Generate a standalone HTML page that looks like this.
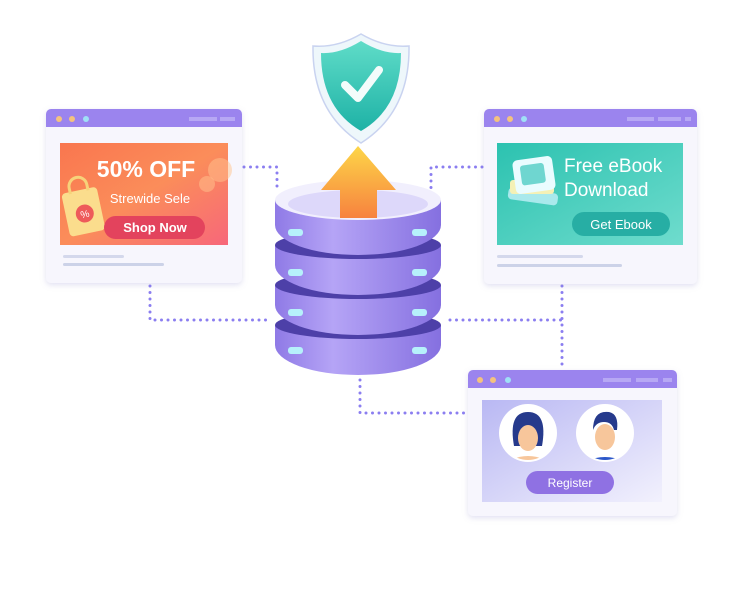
<!DOCTYPE html>
<html><head><meta charset="utf-8"><style>
html,body{margin:0;padding:0;background:#fff;}
svg{display:block;font-family:"Liberation Sans",sans-serif;}
</style></head><body>
<svg width="746" height="602" viewBox="0 0 746 602">
<defs>
<linearGradient id="org" x1="0" y1="0" x2="1" y2="1"><stop offset="0" stop-color="#f9764f"/><stop offset="0.5" stop-color="#fb8d5a"/><stop offset="1" stop-color="#f7677a"/></linearGradient>
<linearGradient id="teal" x1="0" y1="0" x2="1" y2="1"><stop offset="0" stop-color="#2cc2b0"/><stop offset="1" stop-color="#6fdccd"/></linearGradient>
<linearGradient id="reg" x1="0" y1="0" x2="1" y2="1"><stop offset="0" stop-color="#b9b8f3"/><stop offset="1" stop-color="#f2f1fd"/></linearGradient>
<linearGradient id="disc" x1="0" y1="0" x2="1" y2="0"><stop offset="0" stop-color="#8f7ae6"/><stop offset="0.35" stop-color="#b5a4f6"/><stop offset="1" stop-color="#8570e0"/></linearGradient>
<linearGradient id="arrow" x1="0" y1="0" x2="0" y2="1"><stop offset="0" stop-color="#fdd648"/><stop offset="1" stop-color="#f7823f"/></linearGradient>
<linearGradient id="shield" x1="0" y1="0" x2="0" y2="1"><stop offset="0" stop-color="#5fdcc8"/><stop offset="1" stop-color="#1eb2a6"/></linearGradient>
<filter id="sh" x="-20%" y="-20%" width="140%" height="140%"><feDropShadow dx="0" dy="2" stdDeviation="3" flood-color="#8a86c8" flood-opacity="0.25"/></filter>
</defs>
<g stroke="#8b7ef0" stroke-width="3" stroke-linecap="round" stroke-dasharray="0 6.5" fill="none">
<path d="M244 167 H277 V192"/>
<path d="M150 286 V320 H268"/>
<path d="M482 167 H431 V192"/>
<path d="M450 320 H562"/>
<path d="M562 286 V366"/>
<path d="M360 380 V413 H466"/>
</g>
<g filter="url(#sh)">
<rect x="46" y="109" width="196" height="174" rx="5" fill="#f7f6fd"/>
</g>
<path d="M46 127 V114 a5 5 0 0 1 5 -5 H237 a5 5 0 0 1 5 5 V127 Z" fill="#9b84ee"/>
<circle cx="59" cy="119" r="3" fill="#f4c27e"/><circle cx="72" cy="119" r="3" fill="#f4c27e"/><circle cx="86" cy="119" r="3" fill="#9fe0f6"/>
<rect x="189" y="117" width="28" height="4" fill="#b7a8f4"/><rect x="220" y="117" width="15" height="4" fill="#b7a8f4"/>
<rect x="60" y="143" width="168" height="102" fill="url(#org)"/>
<circle cx="220" cy="170" r="12" fill="#ffc48e" opacity=".5"/><circle cx="207" cy="184" r="8" fill="#ffc48e" opacity=".5"/>
<text x="146" y="177" text-anchor="middle" font-size="23" font-weight="bold" fill="#fff">50% OFF</text>
<text x="150" y="203" text-anchor="middle" font-size="13" fill="#fff">Strewide Sele</text>
<g transform="rotate(-12 82 210)"><rect x="65" y="190" width="36" height="44" rx="4" fill="#fbdd8d"/><path d="M74 192 v-6 a9 9 0 0 1 18 0 v6" stroke="#f7d27a" stroke-width="3" fill="none"/><circle cx="84" cy="214" r="9" fill="#ee5a5a"/><text x="84" y="218" text-anchor="middle" font-size="10" fill="#fff">%</text></g>
<rect x="104" y="216" width="101" height="23" rx="11.5" fill="#e3435d"/>
<text x="155" y="232" text-anchor="middle" font-size="13" fill="#fff" font-weight="bold">Shop Now</text>
<rect x="63" y="255" width="61" height="3" rx="1.5" fill="#d4d8ec"/><rect x="63" y="263" width="101" height="3" rx="1.5" fill="#ccd2e8"/>
<g filter="url(#sh)"><rect x="484" y="109" width="213" height="175" rx="5" fill="#f7f6fd"/></g>
<path d="M484 127 V114 a5 5 0 0 1 5 -5 H692 a5 5 0 0 1 5 5 V127 Z" fill="#9b84ee"/>
<circle cx="497" cy="119" r="3" fill="#f4c27e"/><circle cx="510" cy="119" r="3" fill="#f4c27e"/><circle cx="524" cy="119" r="3" fill="#9fe0f6"/>
<rect x="627" y="117" width="27" height="4" fill="#b7a8f4"/><rect x="658" y="117" width="23" height="4" fill="#b7a8f4"/><rect x="685" y="117" width="6" height="4" fill="#b7a8f4"/>
<rect x="497" y="143" width="186" height="102" fill="url(#teal)"/>
<g><rect x="508" y="190" width="50" height="12" rx="4" fill="#a9e9ec" transform="rotate(8 530 196)"/><rect x="510" y="180" width="44" height="14" rx="3" fill="#f4f1b6"/><rect x="514" y="158" width="40" height="34" rx="5" fill="#eafcff" transform="rotate(-8 534 175)"/><rect x="521" y="164" width="24" height="20" rx="3" fill="#6fd6d0" transform="rotate(-8 534 175)"/></g>
<text x="564" y="172" font-size="19" fill="#fff">Free eBook</text>
<text x="564" y="196" font-size="19" fill="#fff">Download</text>
<rect x="572" y="212" width="98" height="24" rx="12" fill="#27aea4"/>
<text x="621" y="229" text-anchor="middle" font-size="13" fill="#fff">Get Ebook</text>
<rect x="497" y="255" width="86" height="3" rx="1.5" fill="#d4d8ec"/><rect x="497" y="264" width="125" height="3" rx="1.5" fill="#ccd2e8"/>
<g filter="url(#sh)"><rect x="468" y="370" width="209" height="146" rx="5" fill="#f7f6fd"/></g>
<path d="M468 388 V375 a5 5 0 0 1 5 -5 H672 a5 5 0 0 1 5 5 V388 Z" fill="#9b84ee"/>
<circle cx="480" cy="380" r="3" fill="#f4c27e"/><circle cx="493" cy="380" r="3" fill="#f4c27e"/><circle cx="508" cy="380" r="3" fill="#9fe0f6"/>
<rect x="603" y="378" width="28" height="4" fill="#b7a8f4"/><rect x="636" y="378" width="22" height="4" fill="#b7a8f4"/><rect x="663" y="378" width="9" height="4" fill="#b7a8f4"/>
<rect x="482" y="400" width="180" height="102" fill="url(#reg)"/>
<circle cx="528" cy="433" r="29" fill="#fff"/><circle cx="605" cy="433" r="29" fill="#fff"/>
<clipPath id="c1"><circle cx="528" cy="433" r="27"/></clipPath><clipPath id="c2"><circle cx="605" cy="433" r="27"/></clipPath>
<g clip-path="url(#c1)"><ellipse cx="528" cy="468" rx="22" ry="12" fill="#f7c69b"/><path d="M514 446 q-6 -34 14 -34 q20 0 14 34 z" fill="#263a8c"/><ellipse cx="528" cy="438" rx="10" ry="13" fill="#f7c69b"/></g>
<g clip-path="url(#c2)"><ellipse cx="605" cy="470" rx="24" ry="13" fill="#2c57c9"/><ellipse cx="605" cy="437" rx="10" ry="13" fill="#f7c69b"/><path d="M593 430 q0 -20 16 -18 q10 2 8 18 l-3 0 q-2 -8 -10 -8 q-8 0 -11 8z" fill="#263a8c"/></g>
<rect x="526" y="471" width="88" height="23" rx="11.5" fill="#8f71e3"/>
<text x="570" y="487" text-anchor="middle" font-size="12" fill="#fff">Register</text>
<g>
<ellipse cx="358" cy="345" rx="83" ry="30" fill="url(#disc)"/>
<rect x="275" y="325" width="166" height="20" fill="url(#disc)"/>
<ellipse cx="358" cy="325" rx="83" ry="14" fill="#4d40a8"/>
<ellipse cx="358" cy="305" rx="83" ry="30" fill="url(#disc)"/>
<rect x="275" y="285" width="166" height="20" fill="url(#disc)"/>
<ellipse cx="358" cy="285" rx="83" ry="14" fill="#4d40a8"/>
<ellipse cx="358" cy="265" rx="83" ry="30" fill="url(#disc)"/>
<rect x="275" y="245" width="166" height="20" fill="url(#disc)"/>
<ellipse cx="358" cy="245" rx="83" ry="14" fill="#4d40a8"/>
<ellipse cx="358" cy="225" rx="83" ry="30" fill="url(#disc)"/>
<rect x="275" y="200" width="166" height="25" fill="url(#disc)"/>
<ellipse cx="358" cy="200" rx="83" ry="20" fill="#f1effd"/>
<ellipse cx="358" cy="204" rx="70" ry="14" fill="#ddd8fa"/>
</g>
<g fill="#b6f1fb">
<rect x="288" y="229" width="15" height="7" rx="3"/><rect x="412" y="229" width="15" height="7" rx="3"/>
<rect x="288" y="269" width="15" height="7" rx="3"/><rect x="412" y="269" width="15" height="7" rx="3"/>
<rect x="288" y="309" width="15" height="7" rx="3"/><rect x="412" y="309" width="15" height="7" rx="3"/>
<rect x="288" y="347" width="15" height="7" rx="3"/><rect x="412" y="347" width="15" height="7" rx="3"/>
</g>
<path d="M358 146 L396 190 H377 V218 H340 V190 H321 Z" fill="url(#arrow)"/>
<path d="M361 34 Q385 48 409 46 Q410 112 361 143 Q312 112 313 46 Q337 48 361 34 Z" fill="#eef7fb" stroke="#c9d3f0" stroke-width="1.5"/>
<path d="M361 41 Q382 54 401 53 Q401 108 361 131 Q321 108 321 53 Q340 54 361 41 Z" fill="url(#shield)"/>
<path d="M345 85 L358 98 L379 70" fill="none" stroke="#f3fcfb" stroke-width="8" stroke-linecap="round" stroke-linejoin="round"/>
</svg>
</body></html>
